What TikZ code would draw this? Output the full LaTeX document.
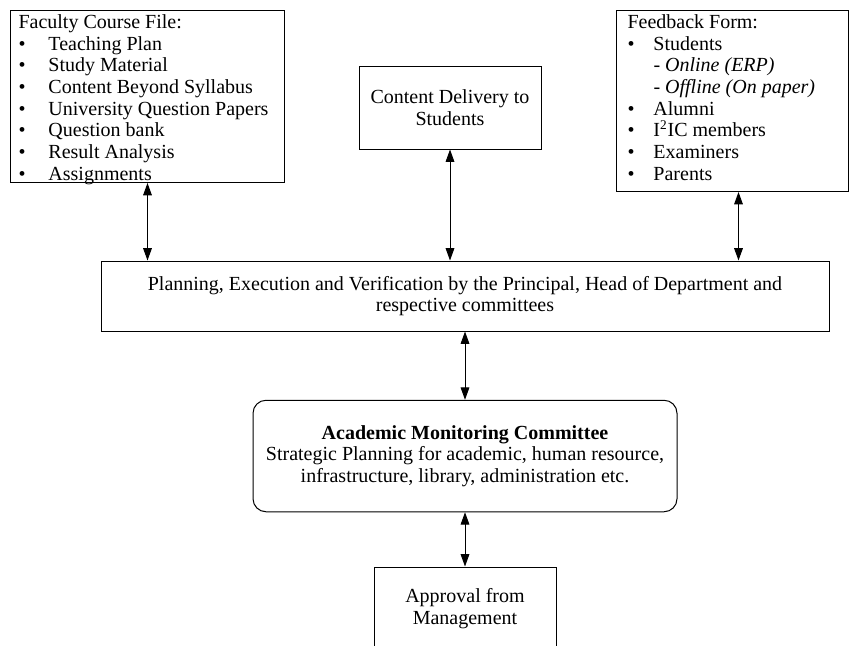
\documentclass[tikz,border=0pt]{standalone}
\usepackage{fontspec}
\setmainfont{Liberation Serif}
\usetikzlibrary{arrows.meta}

\newcommand{\bul}[2]{\makebox[#1][l]{\textbullet}#2}

\begin{document}
\begin{tikzpicture}[x=0.6pt,y=-0.6pt,
	box/.style={draw,line width=0.6pt,inner sep=0pt,align=center,font=\fontsize{12}{13}\selectfont},
	lst/.style={draw,line width=0.6pt,anchor=north west,inner ysep=2.5pt,font=\fontsize{12}{13}\selectfont},
	arr/.style={{Triangle[length=7.4pt,width=5.2pt]}-{Triangle[length=7.4pt,width=5.2pt]},line width=0.6pt}]
	\useasboundingbox (0,0) rectangle (849,645);
	\clip (0,0) rectangle (849,645);
	\node[lst,inner xsep=4.8pt] (fcf) at (10,10) {\parbox[t][98.2pt][t]{154.8pt}{Faculty Course File:\\
		\bul{18pt}{Teaching Plan}\\
		\bul{18pt}{Study Material}\\
		\bul{18pt}{Content Beyond Syllabus}\\
		\bul{18pt}{University Question Papers}\\
		\bul{18pt}{Question bank}\\
		\bul{18pt}{Result Analysis}\\
		\bul{18pt}{Assignments}}};
	\node[lst,inner xsep=6.6pt] (fb) at (616,10) {\parbox[t][103.6pt][t]{126pt}{Feedback Form:\\
		\bul{15.6pt}{Students}\\
		\hspace*{15.6pt}- \textit{Online (ERP)}\\
		\hspace*{15.6pt}- \textit{Offline (On paper)}\\
		\bul{15.6pt}{Alumni}\\
		\bul{15.6pt}{I\textsuperscript{2}IC members}\\
		\bul{15.6pt}{Examiners}\\
		\bul{15.6pt}{Parents}}};
	\node[box,minimum width=109.2pt,minimum height=49.8pt] (cds) at (450,107.5) {Content Delivery to\\Students};
	\node[box,minimum width=436.8pt,minimum height=42pt] (plan) at (465,296) {Planning, Execution and Verification by the Principal, Head of Department and\\respective committees};
	\node[box,rounded corners=7.8pt,minimum width=254.4pt,minimum height=66.9pt] (amc) at (465,456) {\textbf{Academic Monitoring Committee}\\Strategic Planning for academic, human resource,\\infrastructure, library, administration etc.};
	\node[box,minimum width=109.2pt,minimum height=49.8pt] (appr) at (465,608.5) {Approval from\\Management};
	% links
	\draw[arr] (fcf.south) -- (fcf.south |- plan.north);
	\draw[arr] (cds.south) -- (cds.south |- plan.north);
	\draw[arr] ([xshift=3.6pt]fb.south) -- ([xshift=3.6pt]fb.south |- plan.north);
	\draw[arr] (plan.south) -- (amc.north);
	\draw[arr] (amc.south) -- (appr.north);
\end{tikzpicture}
\end{document}
